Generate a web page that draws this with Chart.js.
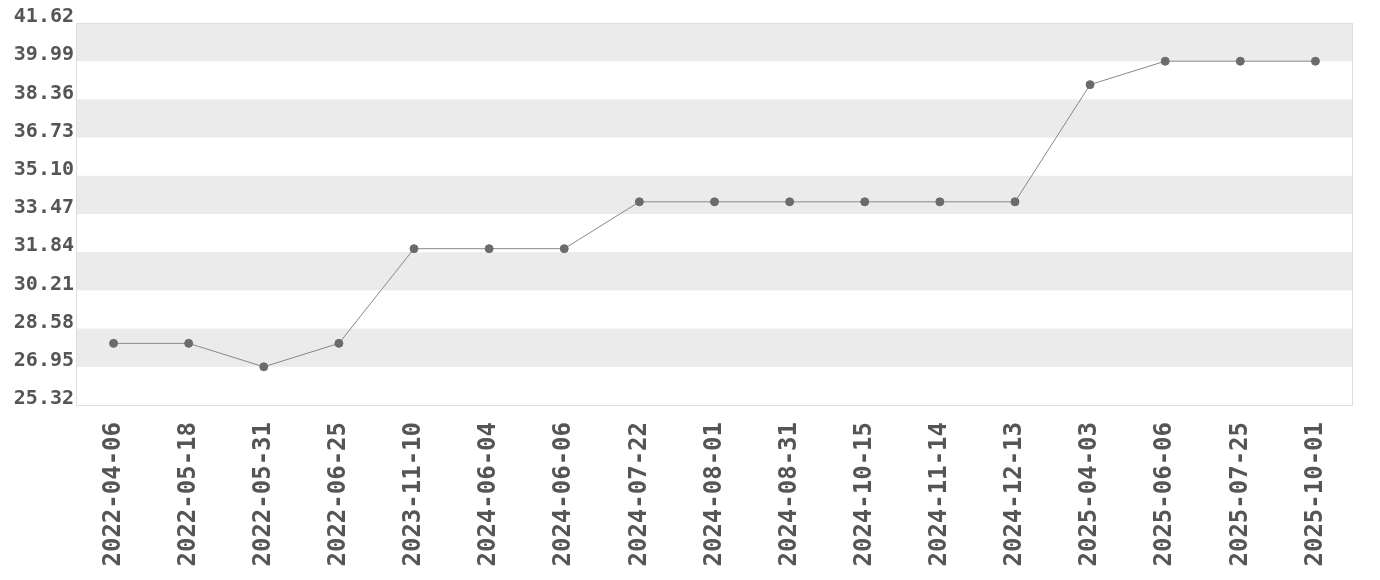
<!DOCTYPE html>
<html>
<head>
<meta charset="utf-8">
<script src="https://cdn.jsdelivr.net/npm/chart.js@4.4.0/dist/chart.umd.min.js"></script>
<style>
  body { margin: 0; background: #fff; }
  #wrap { width: 1380px; height: 580px; }
</style>
</head>
<body>
<div id="wrap"><canvas id="myChart" width="1380" height="580"></canvas></div>
<script>
const dates = ['2022-04-06', '2022-05-18', '2022-05-31', '2022-06-25', '2023-11-10', '2024-06-04', '2024-06-06',
    '2024-07-22', '2024-08-01', '2024-08-31', '2024-10-15', '2024-11-14', '2024-12-13', '2025-04-03',
    '2025-06-06', '2025-07-25', '2025-10-01'];
const prices = [27.95, 27.95, 26.95, 27.95, 31.99, 31.99, 31.99, 33.99, 33.99, 33.99, 33.99, 33.99, 33.99, 38.99,
    39.99, 39.99, 39.99];
const yTicks = [25.32, 26.95, 28.58, 30.21, 31.84, 33.47, 35.10, 36.73, 38.36, 39.99, 41.62];

const bands = {
    id: 'bands',
    beforeDatasetsDraw(chart) {
        const ctx = chart.ctx;
        const area = chart.chartArea;
        const y = chart.scales.y;
        ctx.save();
        ctx.fillStyle = '#ebebeb';
        for (let i = yTicks.length - 1; i > 0; i -= 2) {
            let top = y.getPixelForValue(yTicks[i]);
            let bottom = y.getPixelForValue(yTicks[i - 1]);
            ctx.fillRect(area.left, top, area.right - area.left, bottom - top);
        }
        ctx.strokeStyle = '#dddddd';
        ctx.lineWidth = 1;
        ctx.strokeRect(area.left + 0.5, area.top + 0.5, area.right - area.left - 1, area.bottom - area.top);
        ctx.restore();
    }
};

const ctx = document.getElementById('myChart');
new Chart(ctx, {
    type: 'line',
    data: {
        labels: dates,
        datasets: [{
            data: prices,
            borderColor: '#888888',
            borderWidth: 1,
            pointRadius: 4,
            pointBackgroundColor: '#6b6b6b',
            pointBorderColor: '#6b6b6b',
            tension: 0,
        }]
    },
    options: {
        responsive: false,
        animation: false,
        events: [],
        layout: {
            padding: { left: 0, right: 27, top: 23, bottom: 0 }
        },
        scales: {
            x: {
                offset: true,
                afterFit: (axis) => {
                    axis.height = 175;
                },
                ticks: {
                    color: '#555555',
                    minRotation: 90,
                    maxRotation: 90,
                    autoSkip: false,
                    padding: 17,
                    font: { family: 'DejaVu Sans Mono', size: 24, weight: 'bold' }
                },
                grid: { display: false, drawTicks: false },
                border: { display: false }
            },
            y: {
                min: yTicks[0],
                max: yTicks[yTicks.length - 1],
                afterBuildTicks: (axis) => {
                    axis.ticks = yTicks.map(v => ({ value: v }));
                },
                afterFit: (axis) => {
                    axis.width = 76;
                },
                ticks: {
                    color: '#555555',
                    padding: 2,
                    labelOffset: -6,
                    callback: (v) => v.toFixed(2),
                    font: { family: 'DejaVu Sans Mono', size: 20, weight: 'bold' }
                },
                grid: { display: false, drawTicks: false },
                border: { display: false }
            }
        },
        plugins: {
            legend: { display: false },
            tooltip: { enabled: false }
        }
    },
    plugins: [bands]
});
</script>
</body>
</html>
